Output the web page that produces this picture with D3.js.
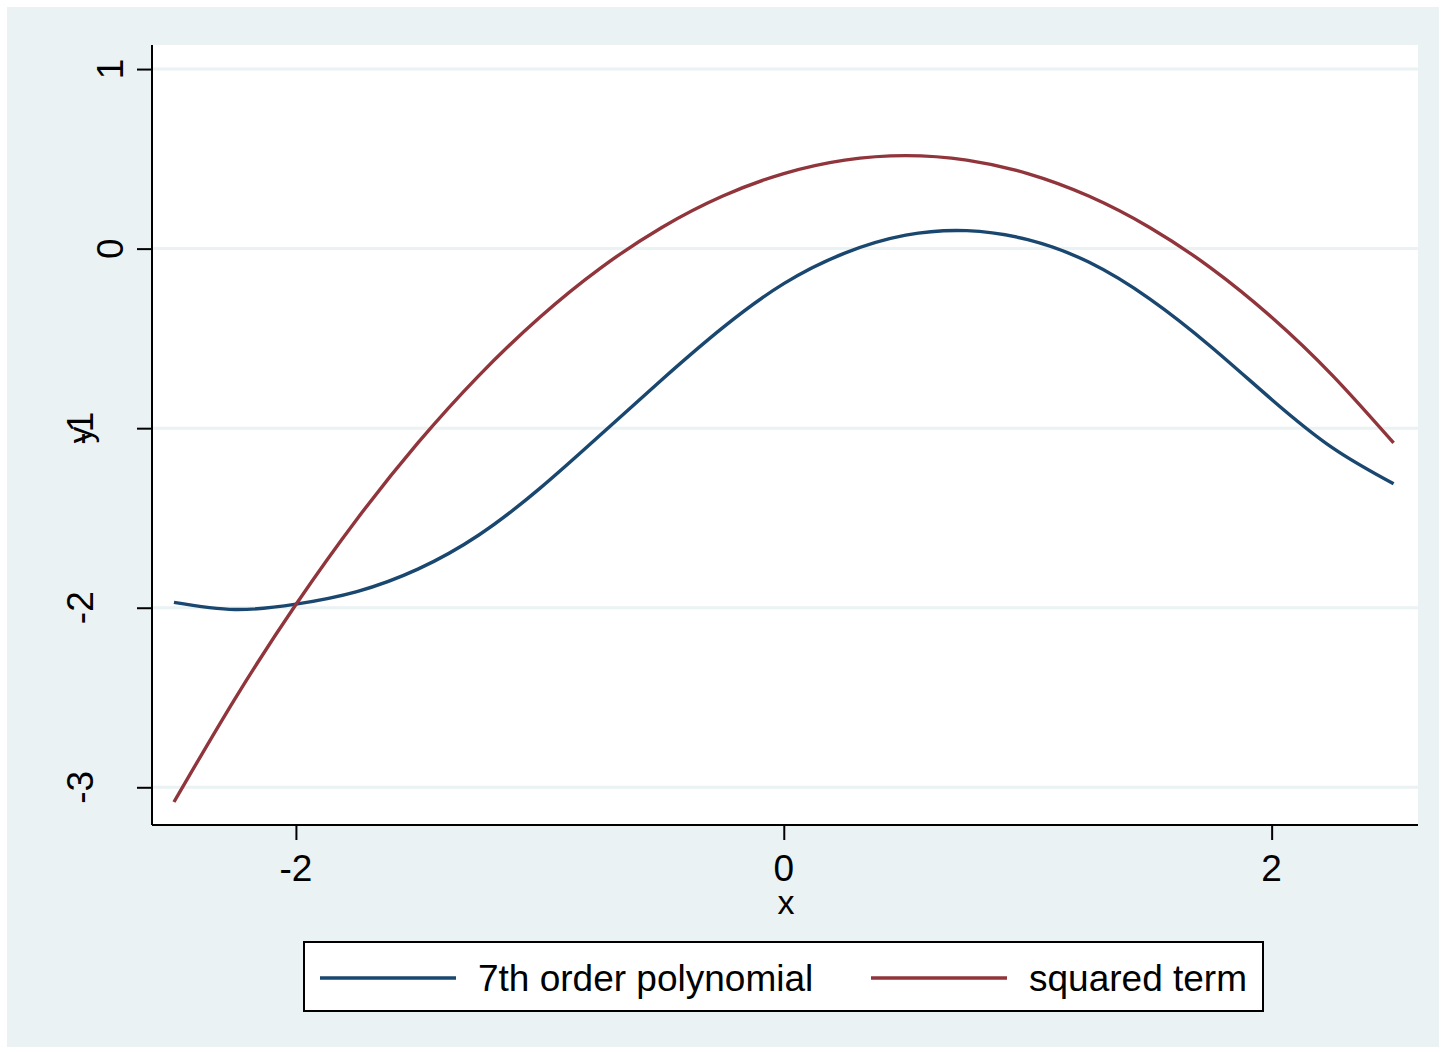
<!DOCTYPE html>
<html>
  <head>
    <meta charset="utf-8">
    <script src="https://d3js.org/d3.v7.min.js"></script>
    <style>
      body { margin: 0; background: #fff; }
      text { font-family: "Liberation Sans", Arial, sans-serif; fill: #000; }
    </style>
  </head>
  <body>
    <div id="chart"></div>
    <script>
        // x grid the curves were read at
        var xs = [-2.5, -2.25, -2, -1.75, -1.5, -1.25, -1, -0.75, -0.5, -0.25, 0,
                  0.25, 0.5, 0.75, 1, 1.25, 1.5, 1.75, 2, 2.25, 2.5]
        var poly7 = [-1.97, -2.01, -1.98, -1.91, -1.785, -1.595, -1.335, -1.035, -0.73, -0.44, -0.195,
                     -0.025, 0.075, 0.10, 0.05, -0.075, -0.28, -0.545, -0.84, -1.11, -1.31]
        var squared = [-3.082, -2.507, -1.982, -1.507, -1.082, -0.707, -0.382, -0.107, 0.118, 0.293, 0.418,
                       0.493, 0.518, 0.493, 0.418, 0.293, 0.118, -0.107, -0.382, -0.707, -1.082]
        var xTicks = [-2, 0, 2]
        var yTicks = [-3, -2, -1, 0, 1]
        var seriesNames = ["7th order polynomial", "squared term"]
        var seriesColors = ["#1a476f", "#90353b"]

        var width = 1446, height = 1054
        // plot region edges (window.top is reserved, so use own names)
        var pLeft = 152, pRight = 1418, pTop = 45, pBottom = 825

        var svg = d3.select("#chart").append("svg")
            .attr("width", width)
            .attr("height", height)

        // outer light background
        svg.append("rect")
            .attr("x", 7).attr("y", 7)
            .attr("width", width - 14).attr("height", height - 14)
            .attr("fill", "#eaf2f3")

        svg.append("rect")
            .attr("x", pLeft).attr("y", pTop)
            .attr("width", pRight - pLeft).attr("height", pBottom - pTop)
            .attr("fill", "#ffffff")

        var x = d3.scaleLinear().domain([-2.59, 2.6]).range([pLeft, pRight])
        var y = d3.scaleLinear().domain([-3.21, 1.134]).range([pBottom, pTop])

        // gridlines
        svg.append("g").selectAll("line")
            .data(yTicks)
            .enter().append("line")
            .attr("x1", pLeft).attr("x2", pRight)
            .attr("y1", function(d){ return y(d) }).attr("y2", function(d){ return y(d) })
            .attr("stroke", "#eaf2f3")
            .attr("stroke-width", 3)

        // curves
        var line = d3.line()
            .x(function(d){ return x(d[0]) })
            .y(function(d){ return y(d[1]) })
            .curve(d3.curveNatural)

        var series = [poly7, squared]
        series.forEach(function(s, i) {
            svg.append("path")
                .datum(xs.map(function(v, j){ return [v, s[j]] }))
                .attr("d", line)
                .attr("fill", "none")
                .attr("stroke", seriesColors[i])
                .attr("stroke-width", 3.4)
        })

        // y axis
        var yAxis = svg.append("g")
            .attr("transform", "translate(" + pLeft + ",0)")
            .call(d3.axisLeft(y).tickValues(yTicks).tickSize(15).tickFormat(""))
        yAxis.select(".domain").attr("d", "M0," + pTop + "V" + pBottom)
        yAxis.selectAll("line, path").attr("stroke", "#000").attr("stroke-width", 2)

        // rotated y tick labels; longer labels sit further out
        svg.append("g").selectAll("text")
            .data(yTicks)
            .enter().append("text")
            .attr("transform", function(d){
                var s = String(d)
                var bx = 123 - (s.length - 1) * 30
                return "translate(" + bx + "," + y(d) + ") rotate(-90)"
            })
            .attr("text-anchor", "middle")
            .attr("font-size", 37)
            .text(function(d){ return d })

        svg.append("text")
            .attr("transform", "translate(92," + ((pTop + pBottom) / 2) + ") rotate(-90)")
            .attr("text-anchor", "middle")
            .attr("font-size", 33)
            .text("y")

        // x axis
        var xAxis = svg.append("g")
            .attr("transform", "translate(0," + pBottom + ")")
            .call(d3.axisBottom(x).tickValues(xTicks).tickSize(15).tickFormat(""))
        xAxis.select(".domain").attr("d", "M" + pLeft + ",0H" + pRight)
        xAxis.selectAll("line, path").attr("stroke", "#000").attr("stroke-width", 2)

        svg.append("g").selectAll("text")
            .data(xTicks)
            .enter().append("text")
            .attr("x", function(d){ return x(d) })
            .attr("y", 881)
            .attr("text-anchor", "middle")
            .attr("font-size", 37)
            .text(function(d){ return d })

        svg.append("text")
            .attr("x", (pLeft + pRight) / 2 + 1)
            .attr("y", 914)
            .attr("text-anchor", "middle")
            .attr("font-size", 34)
            .text("x")

        // legend
        var legend = svg.append("g")
        legend.append("rect")
            .attr("x", 304).attr("y", 942)
            .attr("width", 959).attr("height", 69)
            .attr("fill", "#fff")
            .attr("stroke", "#000")
            .attr("stroke-width", 2)

        var legX = [320, 871]
        seriesNames.forEach(function(n, i) {
            legend.append("line")
                .attr("x1", legX[i]).attr("x2", legX[i] + 136)
                .attr("y1", 978).attr("y2", 978)
                .attr("stroke", seriesColors[i])
                .attr("stroke-width", 3.4)
            legend.append("text")
                .attr("x", legX[i] + 158)
                .attr("y", 991)
                .attr("font-size", 37)
                .text(n)
        })
    </script>
  </body>
</html>
